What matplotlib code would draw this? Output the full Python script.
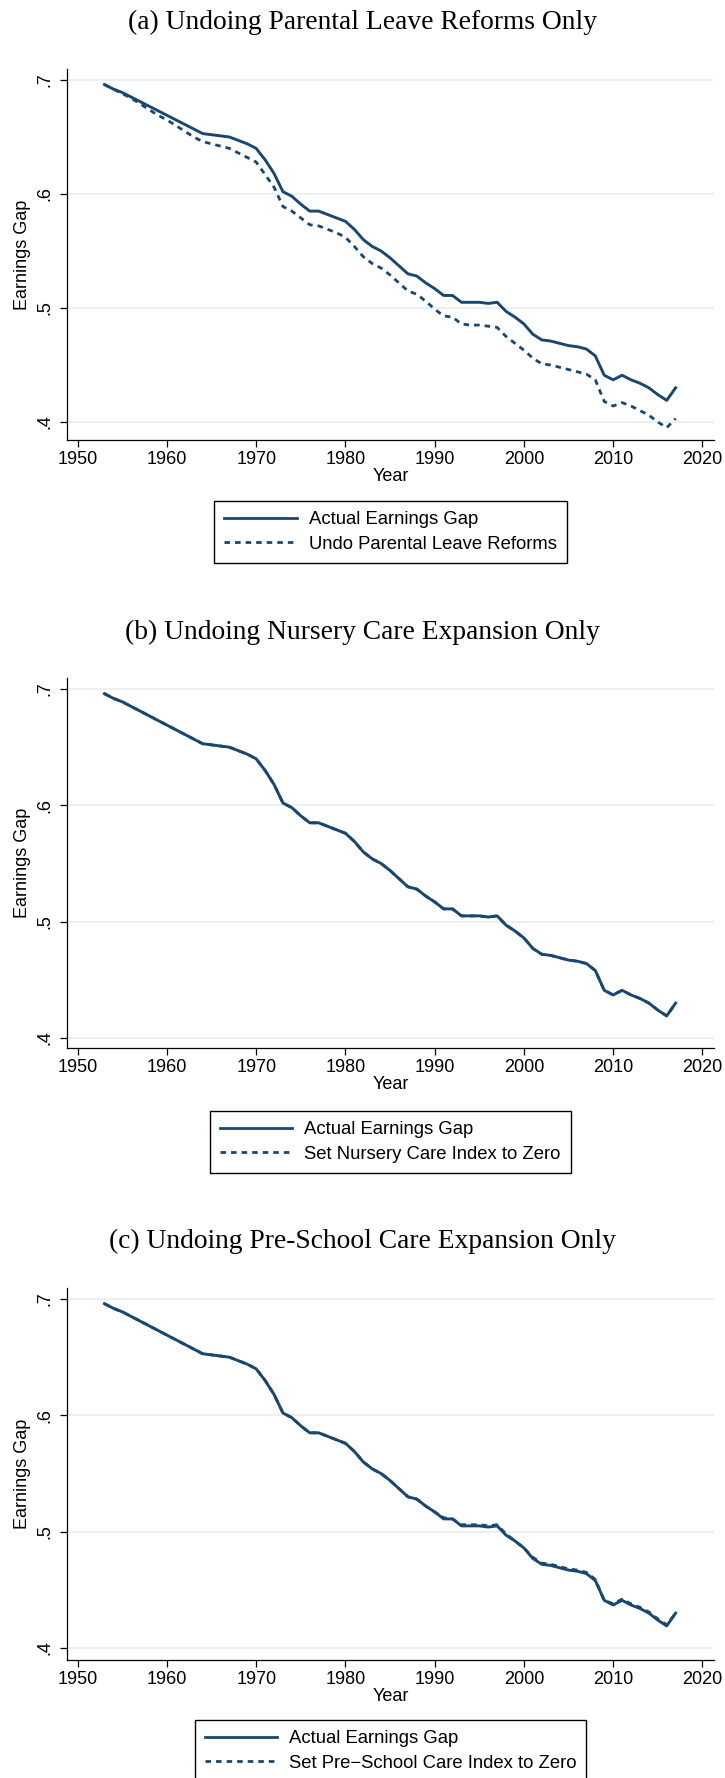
import matplotlib
matplotlib.use("Agg")
import matplotlib.pyplot as plt
from matplotlib.lines import Line2D

# ---------------- data ----------------
years = list(range(1953, 2018))

actual_gap = [
    0.696, 0.692, 0.689, 0.685, 0.681, 0.677, 0.673, 0.669, 0.665, 0.661, 0.657, 0.653,  # 1953-1964
    0.652, 0.651, 0.650, 0.647, 0.644, 0.640, 0.630, 0.618, 0.602, 0.598,                # 1965-1974
    0.591, 0.585, 0.585, 0.582, 0.579, 0.576, 0.569, 0.560, 0.554, 0.550,                # 1975-1984
    0.544, 0.537, 0.530, 0.528, 0.522, 0.517, 0.511, 0.511, 0.505, 0.505,                # 1985-1994
    0.505, 0.504, 0.505, 0.497, 0.492, 0.486, 0.477, 0.472, 0.471, 0.469,                # 1995-2004
    0.467, 0.466, 0.464, 0.458, 0.441, 0.437, 0.441, 0.437, 0.434, 0.430,                # 2005-2014
    0.424, 0.419, 0.430,                                                                 # 2015-2017
]

undo_parental_leave = [
    0.696, 0.692, 0.688, 0.684, 0.679, 0.674, 0.669, 0.665, 0.660, 0.655, 0.650, 0.646,  # 1953-1964
    0.644, 0.642, 0.640, 0.636, 0.632, 0.628, 0.617, 0.606, 0.589, 0.585,                # 1965-1974
    0.579, 0.573, 0.572, 0.569, 0.566, 0.562, 0.554, 0.545, 0.539, 0.535,                # 1975-1984
    0.529, 0.522, 0.515, 0.512, 0.506, 0.499, 0.493, 0.492, 0.486, 0.485,                # 1985-1994
    0.485, 0.484, 0.483, 0.475, 0.469, 0.463, 0.456, 0.451, 0.450, 0.448,                # 1995-2004
    0.446, 0.444, 0.442, 0.437, 0.418, 0.414, 0.417, 0.414, 0.410, 0.406,                # 2005-2014
    0.400, 0.395, 0.403,                                                                 # 2015-2017
]

nursery_zero = [
    0.696, 0.692, 0.689, 0.685, 0.681, 0.677, 0.673, 0.669, 0.665, 0.661, 0.657, 0.653,
    0.652, 0.651, 0.650, 0.647, 0.644, 0.640, 0.630, 0.618, 0.602, 0.598,
    0.591, 0.585, 0.585, 0.582, 0.579, 0.576, 0.569, 0.560, 0.554, 0.550,
    0.544, 0.537, 0.530, 0.528, 0.522, 0.517, 0.511, 0.511, 0.505, 0.505,
    0.505, 0.504, 0.505, 0.497, 0.492, 0.486, 0.477, 0.472, 0.471, 0.469,
    0.467, 0.466, 0.464, 0.458, 0.441, 0.437, 0.441, 0.437, 0.434, 0.430,
    0.424, 0.419, 0.430,
]

preschool_zero = [
    0.696, 0.692, 0.689, 0.685, 0.681, 0.677, 0.673, 0.669, 0.665, 0.661, 0.657, 0.653,
    0.652, 0.651, 0.650, 0.647, 0.644, 0.640, 0.630, 0.618, 0.602, 0.598,
    0.591, 0.585, 0.585, 0.582, 0.579, 0.576, 0.569, 0.560, 0.554, 0.550,
    0.544, 0.537, 0.530, 0.528, 0.522, 0.517, 0.512, 0.511, 0.506, 0.506,
    0.506, 0.505, 0.506, 0.498, 0.492, 0.486, 0.478, 0.473, 0.472, 0.470,
    0.468, 0.467, 0.465, 0.459, 0.441, 0.438, 0.442, 0.438, 0.435, 0.431,
    0.425, 0.420, 0.430,
]

titles = [
    "(a) Undoing Parental Leave Reforms Only",
    "(b) Undoing Nursery Care Expansion Only",
    "(c) Undoing Pre-School Care Expansion Only",
]
counterfactual_labels = [
    "Undo Parental Leave Reforms",
    "Set Nursery Care Index to Zero",
    "Set Pre\u2212School Care Index to Zero",
]
actual_label = "Actual Earnings Gap"
ytick_vals = [0.4, 0.5, 0.6, 0.7]
ytick_labels = [".4", ".5", ".6", ".7"]
xtick_vals = [1950, 1960, 1970, 1980, 1990, 2000, 2010, 2020]

# ---------------- layout (pixels) ----------------
W, H = 725, 1778
LINE = "#1a476f"
GRID = "#e6eef1"

plt.rcParams["font.family"] = ["Liberation Sans", "DejaVu Sans"]

fig = plt.figure(figsize=(W / 100, H / 100), dpi=100)
fig.patch.set_facecolor("white")

panels = [
    dict(title_y=22, top=69, bottom=440, ylim=(0.3842, 0.70965), leg_top=501),
    dict(title_y=632, top=678, bottom=1048, ylim=(0.3914, 0.7095), leg_top=1111),
    dict(title_y=1241, top=1288, bottom=1660, ylim=(0.3897, 0.7095), leg_top=1720),
]
counterfactuals = [undo_parental_leave, nursery_zero, preschool_zero]

left, right = 67, 714

for p, title, cf, cf_label in zip(panels, titles, counterfactuals, counterfactual_labels):
    rect = [left / W, 1 - p["bottom"] / H, (right - left) / W, (p["bottom"] - p["top"]) / H]
    ax = fig.add_axes(rect)
    ax.set_facecolor("white")
    ax.plot(years, actual_gap, color=LINE, lw=2.1, solid_joinstyle="round", zorder=3)
    ax.plot(years, cf, color=LINE, lw=2.0, linestyle=(0, (2.0, 1.8)), zorder=4)
    ax.set_xlim(1948.8, 2021.3)
    ax.set_ylim(*p["ylim"])
    ax.set_yticks(ytick_vals)
    ax.set_yticklabels(ytick_labels, rotation=90, va="center")
    ax.set_xticks(xtick_vals)
    for y in ytick_vals:
        ax.axhline(y, color=GRID, lw=1.2, zorder=1)
    for s in ["top", "right"]:
        ax.spines[s].set_visible(False)
    for s in ["left", "bottom"]:
        ax.spines[s].set_linewidth(0.9)
        ax.spines[s].set_color("black")
    ax.tick_params(axis="both", direction="out", length=5, width=0.9, labelsize=13, colors="black")
    ax.tick_params(axis="y", pad=5)
    ax.tick_params(axis="x", pad=3)
    ax.set_xlabel("Year", fontsize=13, labelpad=0)
    ax.set_ylabel("Earnings Gap", fontsize=13, labelpad=4)

    fig.text(0.5, 1 - p["title_y"] / H, title, ha="center", va="center",
             family=["Liberation Serif", "DejaVu Serif"], fontsize=19.8)

    handles = [
        Line2D([], [], color=LINE, lw=2.0),
        Line2D([], [], color=LINE, lw=2.0, linestyle=(0, (2.0, 1.8))),
    ]
    leg = ax.legend(handles, [actual_label, cf_label], loc="upper center",
                    bbox_to_anchor=((left + right) / 2 / W, 1 - p["leg_top"] / H),
                    bbox_transform=fig.transFigure, borderaxespad=0, fontsize=13.3,
                    frameon=True, fancybox=False, edgecolor="black", framealpha=1,
                    handlelength=3.9, handletextpad=0.65, borderpad=0.55, labelspacing=0.42)
    leg.get_frame().set_linewidth(1.0)

fig.savefig("out.png", dpi=100, facecolor="white")
